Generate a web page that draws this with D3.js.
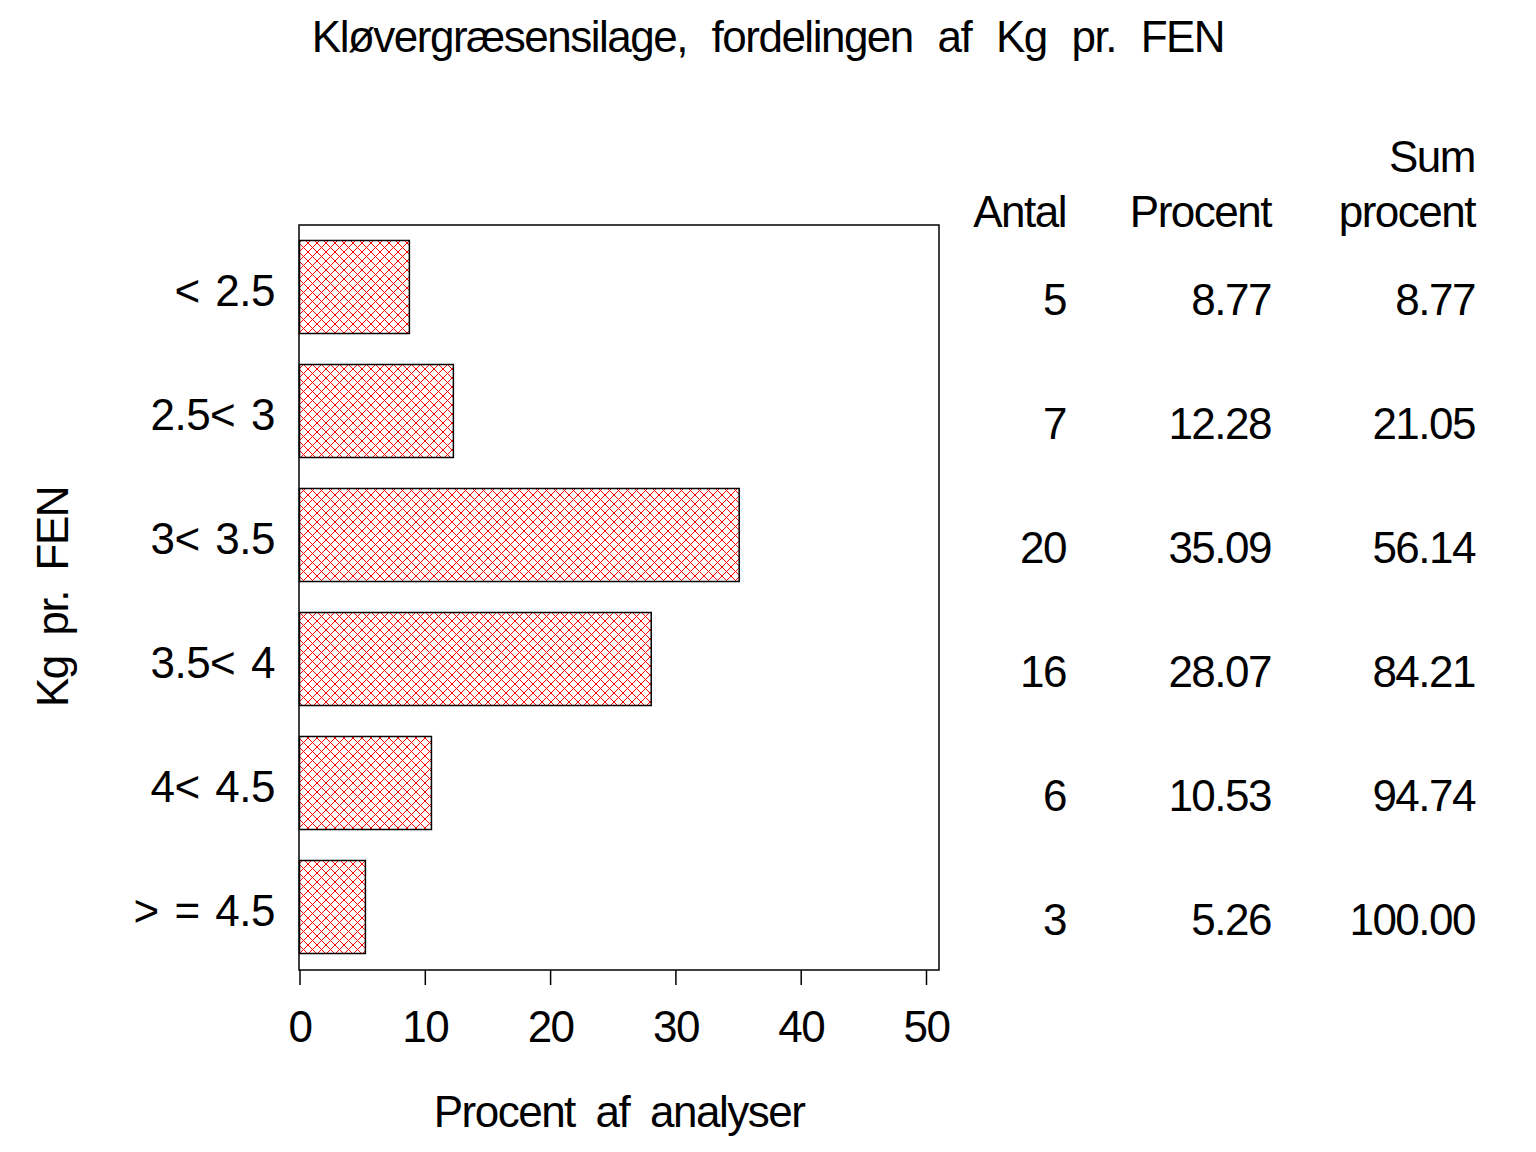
<!DOCTYPE html>
<html>
<head>
<meta charset="utf-8">
<script src="https://cdn.jsdelivr.net/npm/d3@7"></script>
<style>
  body { margin: 0; background: #fff; }
  text { font-family: "Liberation Sans", Arial, sans-serif; fill: #000; }
</style>
</head>
<body>
<div id="chart"></div>
<script>
var categories = ["< 2.5", "2.5< 3", "3< 3.5", "3.5< 4", "4< 4.5", "> = 4.5"];
var antal = [5, 7, 20, 16, 6, 3];
var procent = [8.77, 12.28, 35.09, 28.07, 10.53, 5.26];
var sumProcent = [8.77, 21.05, 56.14, 84.21, 94.74, 100.00];
var xTicks = [0, 10, 20, 30, 40, 50];

var W = 1536, H = 1152;
var frame = {left: 299, right: 939, top: 225, bottom: 970};
var fs = 44, ls = "-1.5px";

var svg = d3.select("#chart").append("svg")
    .attr("width", W).attr("height", H);

// crosshatch fill
var pat = svg.append("defs").append("pattern")
    .attr("id", "hatch")
    .attr("patternUnits", "userSpaceOnUse")
    .attr("width", 9).attr("height", 9)
    .attr("x", frame.left).attr("y", frame.top);
pat.append("path")
    .attr("d", "M0,0L9,9M0,9L9,0")
    .attr("stroke", "#ff0000")
    .attr("stroke-width", 1)
    .attr("fill", "none");

var x = d3.scaleLinear().domain([0, 50]).range([frame.left + 0.5, 926]);
var y = d3.scaleBand().domain(categories)
    .range([frame.top, frame.bottom - 1])
    .paddingInner(0.25).paddingOuter(0.125);

function txt(sel) {
  return sel.style("font-size", fs + "px").style("letter-spacing", ls);
}

// title
txt(svg.append("text"))
    .attr("x", 768).attr("y", 52)
    .attr("text-anchor", "middle")
    .style("word-spacing", "14px")
    .text("Kløvergræsensilage, fordelingen af Kg pr. FEN");

// frame
svg.append("rect")
    .attr("x", frame.left).attr("y", frame.top)
    .attr("width", frame.right - frame.left)
    .attr("height", frame.bottom - frame.top)
    .attr("fill", "none").attr("stroke", "#000").attr("stroke-width", 1.5);

// bars
svg.selectAll(".bar")
    .data(categories)
    .enter().append("rect")
    .attr("class", "bar")
    .attr("x", x(0))
    .attr("y", function(d){ return y(d); })
    .attr("width", function(d, i){ return x(procent[i]) - x(0); })
    .attr("height", y.bandwidth())
    .attr("fill", "url(#hatch)")
    .attr("stroke", "#000").attr("stroke-width", 1.5);

// x axis
var xAxis = svg.append("g")
    .attr("transform", "translate(0," + frame.bottom + ")")
    .call(d3.axisBottom(x).tickValues(xTicks).tickSize(15).tickPadding(26).tickFormat(d3.format("d")));
xAxis.select(".domain").remove();
xAxis.selectAll("line").attr("stroke", "#000").attr("stroke-width", 1.5);
txt(xAxis.selectAll("text")).attr("font-family", null);
xAxis.attr("font-family", null).attr("font-size", null);

// y labels
txt(svg.selectAll(".ylab")
    .data(categories)
    .enter().append("text")
    .attr("class", "ylab")
    .attr("x", 275)
    .attr("y", function(d){ return y(d) + y.bandwidth() / 2 + 19; })
    .attr("text-anchor", "end"))
    .style("letter-spacing", "-0.5px")
    .style("word-spacing", "4px")
    .text(function(d){ return d; });

// axis titles
txt(svg.append("text"))
    .attr("x", 619).attr("y", 1127)
    .attr("text-anchor", "middle")
    .style("word-spacing", "10px")
    .text("Procent af analyser");

txt(svg.append("text"))
    .attr("transform", "translate(68,597) rotate(-90)")
    .attr("text-anchor", "middle")
    .style("word-spacing", "10px")
    .text("Kg pr. FEN");

// table
var cols = [
  {head: ["", "Antal"], right: 1066, vals: antal, fmt: d3.format("d")},
  {head: ["", "Procent"], right: 1271, vals: procent, fmt: d3.format(".2f")},
  {head: ["Sum", "procent"], right: 1475, vals: sumProcent, fmt: d3.format(".2f")}
];
cols.forEach(function(c){
  txt(svg.append("text")).attr("x", c.right).attr("y", 172)
    .attr("text-anchor", "end")
    .text(c.head[0]);
  txt(svg.append("text")).attr("x", c.right).attr("y", 227)
    .attr("text-anchor", "end")
    .text(c.head[1]);
  txt(svg.selectAll(null)
    .data(c.vals)
    .enter().append("text")
    .attr("x", c.right)
    .attr("y", function(d, i){ return y(categories[i]) + y.bandwidth() / 2 + 28; })
    .attr("text-anchor", "end"))
    .text(function(d){ return c.fmt(d); });
});
</script>
</body>
</html>
